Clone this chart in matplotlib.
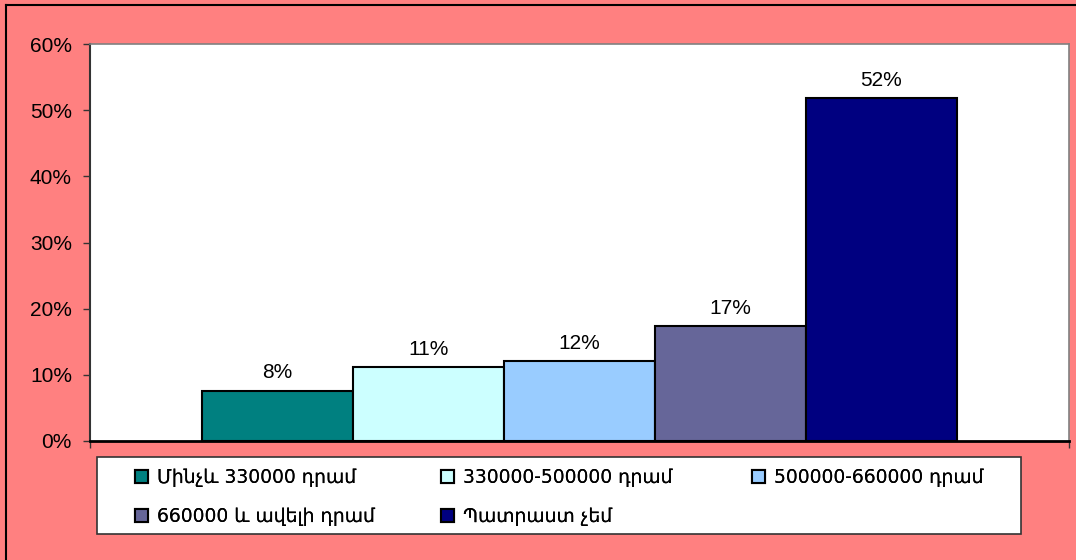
import matplotlib
matplotlib.use("Agg")
import matplotlib.pyplot as plt
from matplotlib.patches import Patch, Rectangle
from matplotlib.lines import Line2D

plt.rcParams['font.family'] = ['Liberation Sans', 'DejaVu Sans']

# survey answers, share of respondents in percent
categories = [
    "Մինչև 330000 դրամ",
    "330000-500000 դրամ",
    "500000-660000 դրամ",
    "660000 և ավելի դրամ",
    "Պատրաստ չեմ",
]
values = [7.6, 11.2, 12.1, 17.4, 51.8]
colors = ["#008080", "#CCFFFF", "#99CCFF", "#666699", "#000080"]
yticks = [0, 10, 20, 30, 40, 50, 60]

W, H = 1076, 560


def main():
    fig = plt.figure(figsize=(W / 100, H / 100), dpi=100, facecolor="#FF8080")
    ax = fig.add_axes([90 / W, 1 - 441 / H, 979 / W, 397 / H])
    ax.set_facecolor("white")

    # outer frame: only its top and left edges are inside the image
    fig.add_artist(Line2D([6 / W, 1], [1 - 5 / H, 1 - 5 / H],
                          transform=fig.transFigure, color="black", lw=1.5))
    fig.add_artist(Line2D([6 / W, 6 / W], [0, 1 - 5 / H],
                          transform=fig.transFigure, color="black", lw=1.5))

    # one category with the five answers side by side
    w = 0.1542
    start = 0.5 - 2.5 * w
    for i, (v, c) in enumerate(zip(values, colors)):
        b = ax.bar(start + (i + 0.5) * w, v, width=w, color=c,
                   edgecolor="black", linewidth=1.5, label=categories[i])
        ax.bar_label(b, labels=[f"{v:.0f}%"], padding=6, fontsize=15)

    ax.set_xlim(0, 1)
    ax.set_ylim(0, 60)
    ax.set_yticks(yticks)
    ax.set_yticklabels([f"{t}%" for t in yticks], fontsize=15)
    ax.set_xticks([0, 1])
    ax.set_xticklabels([])
    ax.tick_params(axis="both", direction="out", length=5, width=1,
                   color="#333333")
    ax.tick_params(axis="y", pad=8)

    ax.spines["left"].set_color("#333333")
    ax.spines["left"].set_linewidth(1.5)
    ax.spines["bottom"].set_color("black")
    ax.spines["bottom"].set_linewidth(2)
    for s in ("top", "right"):
        ax.spines[s].set_color("#808080")
        ax.spines[s].set_linewidth(1.2)

    # legend box with three equal-width columns, filled row by row
    fig.patches.append(Rectangle((97 / W, 1 - 534 / H), 924 / W, 77 / H,
                                 transform=fig.transFigure, facecolor="white",
                                 edgecolor="#333333", linewidth=1.2))
    handles = [Patch(facecolor=c, edgecolor="black", linewidth=1.5)
               for c in colors]
    col_x = [135, 441, 752]
    for k, x in enumerate(col_x):
        idx = [j for j in (k, k + 3) if j < len(categories)]
        leg = fig.legend([handles[j] for j in idx], [categories[j] for j in idx],
                         loc="upper left", bbox_to_anchor=(x / W, 1 - 468 / H),
                         frameon=False, borderpad=0, borderaxespad=0,
                         prop={"family": "DejaVu Sans", "size": 13.5},
                         handlelength=0.7, handleheight=0.7,
                         handletextpad=0.45, labelspacing=1.05)
        fig.add_artist(leg)

    fig.savefig("out.png", dpi=100, facecolor=fig.get_facecolor())
    plt.close(fig)


if __name__ == "__main__":
    main()
